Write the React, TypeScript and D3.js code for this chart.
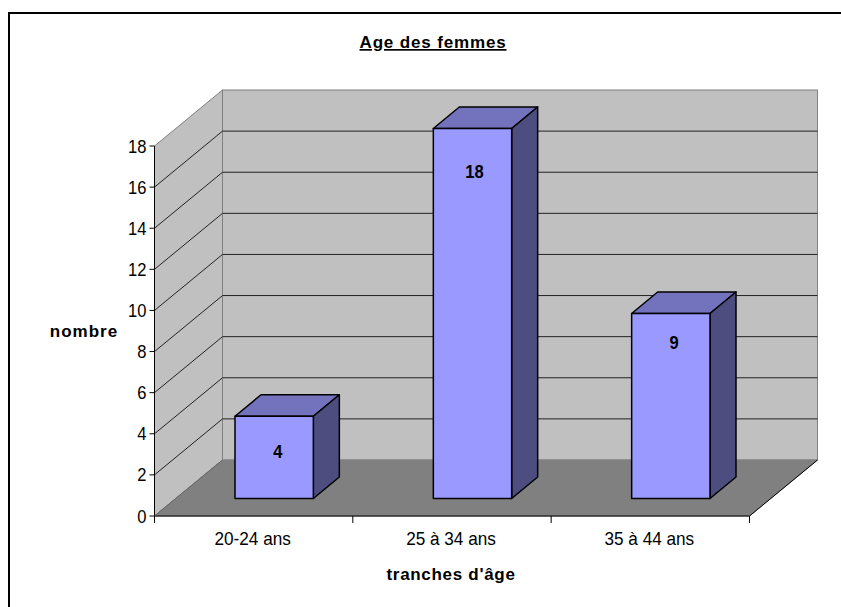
import React from 'react';
import * as d3 from 'd3';

const categories = ['20-24 ans', '25 à 34 ans', '35 à 44 ans'];
const counts = [4, 18, 9];
const yTicks = [0, 2, 4, 6, 8, 10, 12, 14, 16, 18];

const width = 841;
const height = 607;
const font = '"Liberation Sans", Arial, sans-serif';

// oblique offset of the back wall, of the bars' front plane and of a bar's own depth
const wall = { dx: 68, dy: -56 };
const barPlane = { dx: 22, dy: -17.5 };
const barDepth = { dx: 26, dy: -21.5 };

const x = d3.scaleBand<string>().domain(categories).range([154.5, 749.5]).paddingInner(0).paddingOuter(0);
const y = d3.scaleLinear().domain([0, 18]).range([516, 146]);
const barWidth = x.bandwidth() * 0.395;

const pts = (p: number[][]) => p.map(d => d.join(',')).join(' ');

// the reference text is squeezed sideways, so labels carry a horizontal scale
const Label = ({ x: px, y: py, size, sx = 1, bold = false, anchor = 'middle', spacing = 0, underline = false, children }: any) => (
  <text
    transform={`translate(${px},${py}) scale(${sx},1)`}
    textAnchor={anchor}
    stroke="none"
    fontFamily={font}
    fontSize={size}
    fontWeight={bold ? 'bold' : 'normal'}
    letterSpacing={spacing}
    textDecoration={underline ? 'underline' : undefined}
    fill="#000"
  >
    {children}
  </text>
);

export default function App() {
  const x0 = x.range()[0];
  const x1 = x.range()[1];
  const yMin = y(0);
  const yMax = y(18);

  // value labels sit unevenly in the reference, one nudge per bar
  const labelDx = [3.8, 2, 3.2];
  const labelDy = [41.5, 49.5, 35];

  return (
    <svg width={width} height={height} style={{ position: 'absolute', left: 0, top: 0, background: '#fff' }}>
      {/* frame, only the top and left edges show in the photo */}
      <path d={`M9 ${height}V13H${width}`} fill="none" stroke="#000" strokeWidth={2} />

      <Label x={433} y={48} size={17} bold spacing={0.85} underline>Age des femmes</Label>

      {/* walls and floor */}
      <polygon points={pts([[x0, yMin], [x0 + wall.dx, yMin + wall.dy], [x0 + wall.dx, yMax + wall.dy], [x0, yMax]])} fill="#c0c0c0" stroke="#808080" />
      <rect x={x0 + wall.dx} y={yMax + wall.dy} width={x1 - x0} height={yMin - yMax} fill="#c0c0c0" stroke="#808080" />
      <polygon points={pts([[x0, yMin], [x1, yMin], [x1 + wall.dx, yMin + wall.dy], [x0 + wall.dx, yMin + wall.dy]])} fill="#808080" stroke="#808080" />

      {/* gridlines */}
      {yTicks.slice(1, -1).map(t => (
        <polyline key={t} points={pts([[x0, y(t)], [x0 + wall.dx, y(t) + wall.dy], [x1 + wall.dx, y(t) + wall.dy]])} fill="none" stroke="#222" strokeWidth={1} />
      ))}

      {/* axes */}
      <line x1={x0} x2={x0} y1={yMax} y2={yMin + 5} stroke="#000" />
      <line x1={x0} x2={x1} y1={yMin} y2={yMin} stroke="#000" />
      <line x1={x0} x2={x0 + wall.dx} y1={yMin} y2={yMin + wall.dy} stroke="#666" />
      <line x1={x1} x2={x1 + wall.dx} y1={yMin} y2={yMin + wall.dy} stroke="#000" />
      {yTicks.map(t => (
        <g key={t}>
          <line x1={x0 - 5} x2={x0} y1={y(t)} y2={y(t)} stroke="#000" />
          <Label x={x0 - 8} y={y(t) + 6.5} size={18} sx={0.92} anchor="end">{t}</Label>
        </g>
      ))}
      {[...categories.map(c => x(c) as number), x1].map((px, i) => (
        <line key={i} x1={px} x2={px} y1={yMin} y2={yMin + 7} stroke="#000" />
      ))}

      {/* bars */}
      {categories.map((c, i) => {
        const left = (x(c) as number) + barPlane.dx + (x.bandwidth() - barWidth) / 2 - 1.5;
        const right = left + barWidth;
        const base = yMin + barPlane.dy;
        const top = base - (yMin - y(counts[i]));
        return (
          <g key={c} stroke="#000" strokeWidth={1.5} strokeLinejoin="round">
            <polygon points={pts([[left, top], [left + barDepth.dx, top + barDepth.dy], [right + barDepth.dx, top + barDepth.dy], [right, top]])} fill="#7373bd" />
            <polygon points={pts([[right, top], [right + barDepth.dx, top + barDepth.dy], [right + barDepth.dx, base + barDepth.dy], [right, base]])} fill="#4d4d80" />
            <rect x={left} y={top} width={barWidth} height={base - top} fill="#9999ff" />
            <Label x={left + barWidth / 2 + labelDx[i]} y={top + labelDy[i]} size={18} sx={0.92} bold>{counts[i]}</Label>
          </g>
        );
      })}

      {categories.map(c => (
        <Label key={c} x={(x(c) as number) + x.bandwidth() / 2 - 1} y={545} size={17.5} sx={0.98}>{c}</Label>
      ))}

      <Label x={451} y={579.5} size={17} bold spacing={0.7}>tranches d'âge</Label>
      <Label x={84} y={337} size={17} bold spacing={1}>nombre</Label>
    </svg>
  );
}
